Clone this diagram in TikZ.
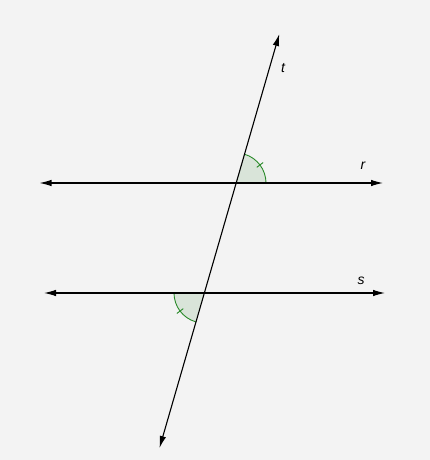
\documentclass[tikz,border=0pt]{standalone}
\usepackage{fontspec}
\setmainfont{Liberation Sans}
\usepackage{tikz}
\usetikzlibrary{calc,
	arrows.meta}
\definecolor{bgcol}{HTML}{F3F3F3}
\definecolor{anglecol}{HTML}{2A8A2A}
\definecolor{anglefill}{HTML}{D9E4D9}
\def\angt{73.8}

\begin{document}
\begin{tikzpicture}[x=1pt, y=1pt, >={Latex[length=12pt,width=6.5pt]},
	line/.style={line width=1.1pt, <->},
	arcline/.style={draw=anglecol, line width=0.9pt},
	lbl/.style={font=\fontsize{14}{16}\selectfont\itshape, inner sep=0pt}]
	\fill[bgcol] (0, 0) rectangle (430, 460);
	\useasboundingbox (0, 0) rectangle (430, 460);
	\coordinate (P) at (236, 277);
	\coordinate (Q) at (204, 167);
	\coordinate (r1) at (39.5, 277);
	\coordinate (r2) at (383, 277);
	\coordinate (s1) at (44, 167);
	\coordinate (s2) at (385, 167);
	\coordinate (t1) at (159.5, 12);
	\coordinate (t2) at (279.3, 426);
	% angle at r
	\fill[anglefill] (P) -- ++(0:30) arc[start angle=0, end angle=\angt, radius=30] -- cycle;
	\draw[arcline] ($(P)+(0:30)$) arc[start angle=0, end angle=\angt, radius=30];
	\draw[arcline] ($(P)+(37:26)$) -- ($(P)+(37:34)$);
	% angle at s
	\fill[anglefill] (Q) -- ++(180:30) arc[start angle=180, end angle=180+\angt, radius=30] -- cycle;
	\draw[arcline] ($(Q)+(180:30)$) arc[start angle=180, end angle=180+\angt, radius=30];
	\draw[arcline] ($(Q)+(217:26)$) -- ($(Q)+(217:34)$);
	\draw[line] (r1) -- (r2);
	\draw[line] (s1) -- (s2);
	\draw[line] (t1) -- (t2);
	\node[lbl] (lt) at (283, 392) {t};
	\node[lbl] (lr) at (363, 294) {r};
	\node[lbl] (ls) at (361, 179) {s};
\end{tikzpicture}
\end{document}
